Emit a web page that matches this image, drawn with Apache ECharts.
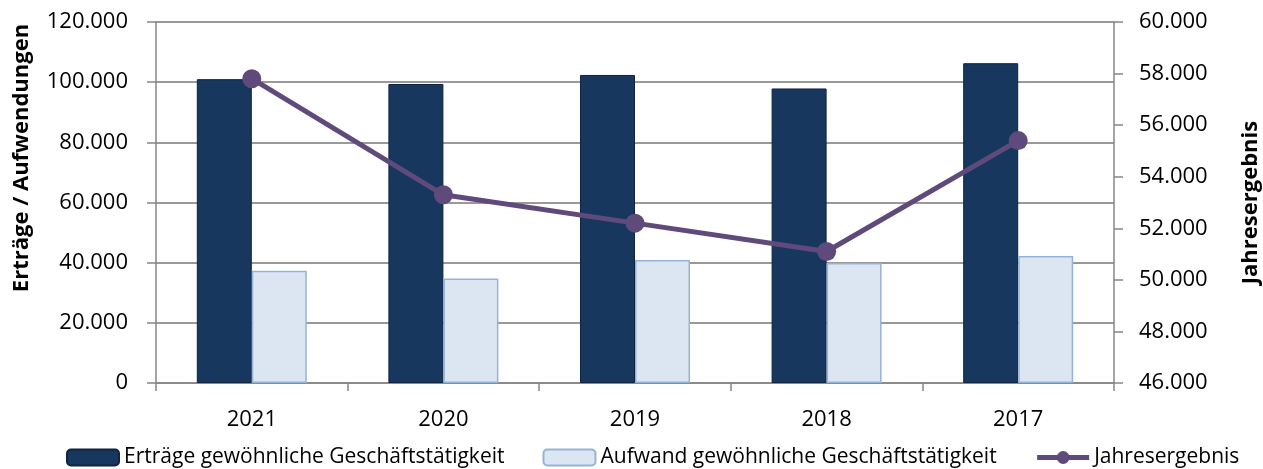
<!DOCTYPE html>
<html>
<head>
<meta charset="utf-8">
<script src="https://cdn.jsdelivr.net/npm/echarts@6/dist/echarts.min.js"></script>
<style>
  html, body { margin: 0; padding: 0; background: #fff; }
  #chart { width: 1263px; height: 469px; }
</style>
</head>
<body>
<div id="chart"></div>
<script>
var years = ["2021", "2020", "2019", "2018", "2017"];
var ertraege = [101000, 99400, 102400, 97900, 106300];
var aufwand = [37300, 34700, 40900, 39900, 42200];
var jahresergebnis = [57800, 53300, 52200, 51100, 55400];

var font = "'Open Sans', 'Noto Sans', sans-serif";

function fmt(v) {
  if (v === 0) return "0";
  return String(v).replace(/\B(?=(\d{3})+(?!\d))/g, ".");
}

var mychart = echarts.init(document.getElementById("chart"));
var option = {
  animation: false,
  textStyle: { fontFamily: font },
  grid: { left: 156, right: 149, top: 22, bottom: 86, outerBoundsMode: "none" },
  // linker Achsentitel sitzt bei Excel nicht mittig
  graphic: [
    {
      type: "text",
      x: 22,
      y: 158,
      rotation: Math.PI / 2,
      style: {
        text: "Erträge / Aufwendungen",
        font: "bold 22px " + font,
        fill: "#000",
        align: "center",
        verticalAlign: "middle"
      }
    }
  ],
  legend: {
    top: 442,
    left: 61,
    itemWidth: 52,
    itemHeight: 16,
    itemGap: 38,
    textStyle: { fontSize: 21, color: "#000", fontFamily: font },
    data: [
      { name: "Erträge gewöhnliche Geschäftstätigkeit" },
      { name: "Aufwand gewöhnliche Geschäftstätigkeit" },
      { name: "Jahresergebnis", lineStyle: { width: 5 }, itemStyle: { color: "#604A7B" } }
    ]
  },
  xAxis: {
    type: "category",
    data: years,
    axisLine: { lineStyle: { color: "#868686", width: 1.5 } },
    axisTick: { show: true, length: 8, lineStyle: { color: "#868686", width: 1.5 } },
    axisLabel: { fontSize: 22, color: "#000", margin: 26 }
  },
  yAxis: [
    {
      type: "value",
      min: 0,
      max: 120000,
      interval: 20000,
      axisLine: { show: true, lineStyle: { color: "#868686", width: 1.5 } },
      axisTick: { show: true, length: 9, lineStyle: { color: "#868686", width: 1.5 } },
      axisLabel: { fontSize: 22, color: "#000", margin: 28, formatter: fmt },
      splitLine: { lineStyle: { color: "#999", width: 2 } }
    },
    {
      type: "value",
      min: 46000,
      max: 60000,
      interval: 2000,
      name: "Jahresergebnis",
      nameLocation: "middle",
      nameGap: 126,
      nameRotate: 90,
      nameTextStyle: { fontSize: 22, fontWeight: "bold", color: "#000" },
      axisLine: { show: true, lineStyle: { color: "#868686", width: 1.5 } },
      axisTick: { show: true, length: 9, lineStyle: { color: "#868686", width: 1.5 } },
      axisLabel: { fontSize: 22, color: "#000", margin: 25, formatter: fmt },
      splitLine: { show: false }
    }
  ],
  series: [
    {
      name: "Erträge gewöhnliche Geschäftstätigkeit",
      type: "bar",
      data: ertraege,
      barWidth: 55,
      barGap: "0%",
      itemStyle: { color: "#17375E", borderColor: "#0F243E", borderWidth: 1 }
    },
    {
      name: "Aufwand gewöhnliche Geschäftstätigkeit",
      type: "bar",
      data: aufwand,
      barWidth: 55,
      barGap: "0%",
      itemStyle: { color: "#DCE6F2", borderColor: "#95B3D7", borderWidth: 1.5 }
    },
    {
      name: "Jahresergebnis",
      type: "line",
      yAxisIndex: 1,
      data: jahresergebnis,
      symbol: "circle",
      symbolSize: 19,
      lineStyle: { color: "#604A7B", width: 5 },
      itemStyle: { color: "#604A7B" }
    }
  ]
};
mychart.setOption(option, true);
</script>
</body>
</html>
